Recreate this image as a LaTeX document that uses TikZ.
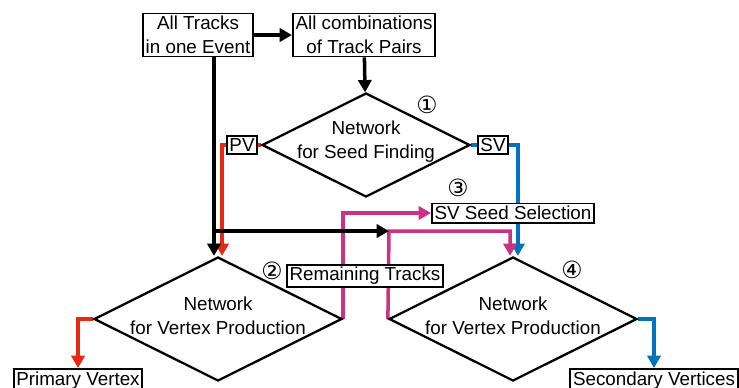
\documentclass[tikz,border=0pt]{standalone}
\usepackage{fontspec}
\setmainfont{Liberation Sans}
\newfontfamily\circfont{DejaVu Sans}
\usetikzlibrary{arrows.meta,shapes.geometric}
\pgfdeclarelayer{background}
\pgfsetlayers{background,main}
\definecolor{pvred}{RGB}{232,40,18}
\definecolor{svblue}{RGB}{0,115,190}
\definecolor{trkpink}{RGB}{204,50,130}

\begin{document}
\begin{tikzpicture}[x=0.02cm,y=-0.02cm,
  every node/.style={font=\fontsize{10.7}{13.6}\selectfont},
  box/.style={draw,line width=1.1pt,fill=white,inner xsep=1.5pt,inner ysep=1.5pt,align=center},
  net/.style={diamond,draw,line width=1.3pt,inner sep=0pt},
  num/.style={font=\circfont\fontsize{13.5}{14}\selectfont},
  flow/.style={line width=2pt,-{Triangle[length=7pt,width=7.5pt]}},
  link/.style={line width=1.8pt}]
\useasboundingbox (0,0) rectangle (739,387);
% inputs
\node[box] (ev) at (198,35) {All Tracks\\in one Event};
\node[box] (pairs) at (364,35) {All combinations\\of Track Pairs};
% networks
\node[net,minimum width=4.16cm,minimum height=2.08cm] (seed) at (366,145) {};
\node[align=center] (seedtxt) at (366,142) {Network\\for Seed Finding};
\node[net,minimum width=4.96cm,minimum height=2.48cm] (vtxp) at (218,319) {};
\node[align=center] (vtxptxt) at (218,316) {Network\\for Vertex Production};
\node[net,minimum width=4.96cm,minimum height=2.48cm] (vtxs) at (513,319) {};
\node[align=center] (vtxstxt) at (513,316) {Network\\for Vertex Production};
% seeds
\node[box] (pv) at (242,145) {PV};
\node[box] (sv) at (493,145) {SV};
\node[box] (sel) at (513,213) {SV Seed Selection};
\node[box] (rem) at (365,276) {Remaining Tracks};
% outputs
\node[box,anchor=north] (prim) at (78,368) {Primary Vertex};
\node[box,anchor=north] (sec) at (654,368) {Secondary Vertices};
% step numbers
\node[num] (n1) at (427,105) {①};
\node[num] (n2) at (272,271) {②};
\node[num] (n3) at (458,188) {③};
\node[num] (n4) at (572,270) {④};
% bend points
\coordinate (bk) at ([xshift=-2.3pt]vtxp.north);
\coordinate (rd) at ([xshift=2.3pt]vtxp.north);
\coordinate (pk) at ([xshift=-1.7pt]vtxs.north);
\coordinate (bl) at ([xshift=2.8pt]vtxs.north);
\coordinate (join) at (389,231);
\begin{pgfonlayer}{background}
% colour flows
\draw[link,pvred] (seed.west) -- (pv.east);
\draw[flow,pvred] (pv.west) -| (rd);
\draw[link,svblue] (seed.east) -- (sv.west);
\draw[flow,svblue] (sv.east) -| (bl);
\draw[flow,trkpink] (vtxp.east) |- (sel.west);
\draw[flow,trkpink] (vtxs.west) -- (join) -| (pk);
\draw[flow,pvred] (vtxp.west) -| (prim.north);
\draw[flow,svblue] (vtxs.east) -| (sec.north);
% track flows
\draw[flow] (ev) -- (pairs);
\draw[flow] (pairs) -- (seed);
\draw[flow] (bk |- ev.south) -- (bk);
\draw[flow] (bk |- join) -- (join);
\end{pgfonlayer}
\end{tikzpicture}
\end{document}
